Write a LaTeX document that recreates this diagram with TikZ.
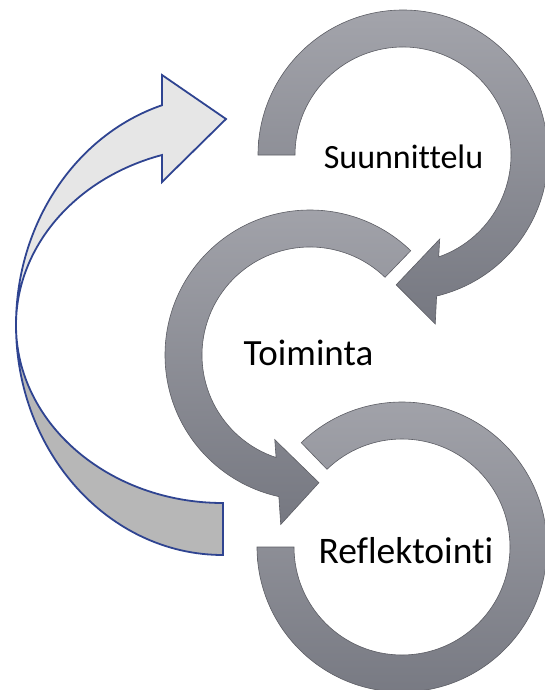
\documentclass[tikz,border=0pt]{standalone}
\usepackage{fontspec}
\setmainfont{Carlito}[Ligatures={NoCommon,NoRequired,NoContextual}]
\definecolor{ringtop}{RGB}{163,164,171}
\definecolor{ringbot}{RGB}{118,120,129}
\definecolor{ringedge}{RGB}{92,93,100}
\definecolor{arrowblue}{RGB}{47,68,145}
\definecolor{lightband}{RGB}{230,230,230}
\definecolor{darkband}{RGB}{183,183,183}
\begin{document}
\begin{tikzpicture}[x=1pt,y=-1pt,
  ring/.style={draw=ringedge, line width=0.6pt, top color=ringtop, bottom color=ringbot},
  band/.style={draw=arrowblue, line width=1.8pt, line join=miter},
  label/.style={anchor=base, inner sep=0pt}]
\useasboundingbox (0,0) rectangle (545,690);

% big curved return arrow on the left
\path[band, fill=darkband] (16,325) arc[start angle=180, end angle=90, x radius=207, y radius=230]
  -- (223,503) arc[start angle=90, end angle=180, x radius=207, y radius=178] -- cycle;
\path[band, fill=lightband] (16,325) arc[start angle=180, end angle=252.86, x radius=207, y radius=230]
  -- (162,75) -- (226,119) -- (162,182) -- (162,155)
  arc[start angle=252.86, end angle=180, x radius=207, y radius=178] -- cycle;

% ring 1 : Suunnittelu (clockwise, arrowhead at bottom)
\begin{scope}[shift={(403,155)}]
\path[ring] (180:145) arc[start angle=180, end angle=436.6, radius=145]
  -- (439.2:172) -- (453:130) -- (426.4:91.7) -- (430.7:108)
  arc[start angle=430.7, end angle=180, radius=108] -- cycle;
\end{scope}

% ring 2 : Toiminta (counter-clockwise, arrowhead at bottom)
\begin{scope}[shift={(310,355)}]
\path[ring] (314:145) arc[start angle=314, end angle=102.4, radius=145]
  -- (99.8:172) -- (86:128) -- (112.6:91.7) -- (108.3:108)
  arc[start angle=108.3, end angle=314, radius=108] -- cycle;
\end{scope}

% ring 3 : Reflektointi (clockwise, no arrowhead)
\begin{scope}[shift={(402,547)}]
\path[ring] (226:145) arc[start angle=226, end angle=540, radius=145]
  -- (540:108) arc[start angle=540, end angle=226, radius=108] -- cycle;
\end{scope}

\node[label, font=\fontsize{34}{40}\selectfont] (suun) at (403.5,168) {Suunnittelu};
\node[label, font=\fontsize{37}{44}\selectfont] (toim) at (308.5,365) {Toiminta};
\node[label, font=\fontsize{37.5}{44}\selectfont] (refl) at (406,563) {Reflektointi};
\end{tikzpicture}
\end{document}
